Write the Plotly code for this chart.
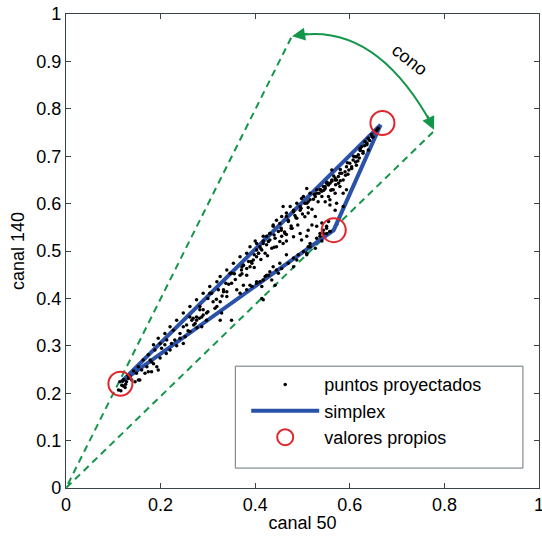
import plotly.graph_objects as go

# ---------------- data ----------------
pts_x = [0.111, 0.118, 0.125, 0.114, 0.128, 0.132, 0.122, 0.139, 0.146, 0.153,
         0.149, 0.160, 0.171, 0.174, 0.181, 0.185, 0.192, 0.195, 0.178, 0.199,
         0.202, 0.209, 0.212, 0.220, 0.223, 0.230, 0.234, 0.241, 0.248, 0.252,
         0.255, 0.262, 0.266, 0.273, 0.277, 0.283, 0.290, 0.287, 0.297, 0.181,
         0.167, 0.156, 0.449, 0.442, 0.431, 0.424, 0.417, 0.414, 0.407, 0.421,
         0.435, 0.445, 0.403, 0.393, 0.389, 0.382, 0.371, 0.368, 0.350, 0.350,
         0.333, 0.340, 0.308, 0.326, 0.311, 0.315, 0.290, 0.287, 0.276, 0.269,
         0.326, 0.350, 0.368, 0.375, 0.393, 0.403, 0.410, 0.417, 0.421, 0.428,
         0.431, 0.438, 0.452, 0.449, 0.466, 0.459, 0.375, 0.562, 0.579, 0.569,
         0.558, 0.576, 0.586, 0.548, 0.562, 0.569, 0.555, 0.541, 0.548, 0.572,
         0.558, 0.533, 0.527, 0.516, 0.505, 0.516, 0.509, 0.530, 0.498, 0.488,
         0.495, 0.481, 0.474, 0.466, 0.459, 0.456, 0.470, 0.488, 0.445, 0.438,
         0.431, 0.424, 0.417, 0.410, 0.403, 0.456, 0.466, 0.463, 0.481, 0.495,
         0.498, 0.509, 0.512, 0.520, 0.530, 0.516, 0.530, 0.537, 0.544, 0.551,
         0.541, 0.527, 0.512, 0.555, 0.551, 0.558, 0.541, 0.527, 0.512, 0.502,
         0.491, 0.481, 0.509, 0.400, 0.407, 0.660, 0.653, 0.646, 0.639, 0.632,
         0.636, 0.625, 0.622, 0.628, 0.618, 0.611, 0.607, 0.600, 0.593, 0.604,
         0.614, 0.590, 0.583, 0.576, 0.569, 0.562, 0.555, 0.548, 0.579, 0.586,
         0.565, 0.541, 0.639, 0.304, 0.283, 0.333, 0.347, 0.375, 0.382, 0.396,
         0.262, 0.248, 0.227, 0.213, 0.199, 0.188, 0.174, 0.163, 0.153, 0.414,
         0.442, 0.414, 0.445, 0.488, 0.481, 0.509, 0.516, 0.537, 0.544, 0.558,
         0.551, 0.502, 0.544, 0.572, 0.593, 0.558, 0.569, 0.586, 0.604, 0.614,
         0.628, 0.622, 0.636, 0.646, 0.653, 0.466, 0.481, 0.495, 0.509, 0.530,
         0.537, 0.551, 0.562, 0.452, 0.438, 0.431, 0.417, 0.403, 0.389, 0.382,
         0.368, 0.354, 0.340, 0.326, 0.319, 0.304, 0.290, 0.276, 0.262, 0.248,
         0.234, 0.220, 0.209, 0.195, 0.185, 0.241, 0.276, 0.297, 0.319, 0.340,
         0.361, 0.382, 0.389, 0.403, 0.424, 0.435, 0.456, 0.470, 0.417, 0.329,
         0.121, 0.116, 0.126, 0.135, 0.143, 0.119, 0.131, 0.657, 0.649, 0.642,
         0.631, 0.617, 0.598, 0.591, 0.612, 0.620, 0.596, 0.580, 0.570, 0.560,
         0.545, 0.535, 0.523, 0.512, 0.500, 0.486, 0.476, 0.462, 0.476, 0.455,
         0.392, 0.372, 0.358, 0.344, 0.330, 0.318, 0.300, 0.282, 0.270, 0.258,
         0.520, 0.505, 0.490, 0.478, 0.466, 0.452, 0.440, 0.426, 0.412, 0.398,
         0.300, 0.322, 0.338, 0.356, 0.372, 0.386, 0.398, 0.412, 0.428, 0.440,
         0.455, 0.470, 0.484, 0.497, 0.512, 0.525, 0.538, 0.552, 0.566, 0.580,
         0.595, 0.608, 0.622, 0.636, 0.648]
pts_y = [0.207, 0.217, 0.212, 0.224, 0.224, 0.231, 0.229, 0.228, 0.224, 0.228,
         0.242, 0.249, 0.256, 0.245, 0.266, 0.262, 0.256, 0.249, 0.270, 0.274,
         0.295, 0.302, 0.284, 0.291, 0.305, 0.312, 0.300, 0.316, 0.305, 0.319,
         0.344, 0.330, 0.354, 0.347, 0.338, 0.376, 0.365, 0.340, 0.354, 0.245,
         0.242, 0.228, 0.541, 0.527, 0.523, 0.513, 0.516, 0.502, 0.495, 0.495,
         0.506, 0.509, 0.488, 0.474, 0.467, 0.463, 0.460, 0.449, 0.453, 0.432,
         0.414, 0.414, 0.411, 0.393, 0.393, 0.379, 0.376, 0.361, 0.354, 0.358,
         0.354, 0.354, 0.411, 0.428, 0.425, 0.432, 0.435, 0.439, 0.446, 0.449,
         0.456, 0.467, 0.474, 0.453, 0.492, 0.516, 0.470, 0.671, 0.664, 0.654,
         0.643, 0.643, 0.650, 0.632, 0.629, 0.622, 0.615, 0.615, 0.604, 0.601,
         0.597, 0.604, 0.615, 0.608, 0.601, 0.622, 0.632, 0.629, 0.611, 0.601,
         0.586, 0.583, 0.594, 0.580, 0.594, 0.573, 0.565, 0.569, 0.565, 0.555,
         0.537, 0.531, 0.521, 0.509, 0.502, 0.531, 0.521, 0.537, 0.530, 0.537,
         0.523, 0.531, 0.544, 0.555, 0.552, 0.516, 0.527, 0.537, 0.544, 0.552,
         0.559, 0.573, 0.580, 0.562, 0.537, 0.541, 0.521, 0.506, 0.509, 0.499,
         0.492, 0.485, 0.492, 0.521, 0.495, 0.759, 0.752, 0.745, 0.738, 0.731,
         0.724, 0.720, 0.713, 0.710, 0.703, 0.699, 0.692, 0.685, 0.678, 0.674,
         0.681, 0.667, 0.664, 0.657, 0.650, 0.647, 0.639, 0.636, 0.636, 0.622,
         0.629, 0.626, 0.713, 0.411, 0.383, 0.418, 0.453, 0.470, 0.449, 0.481,
         0.361, 0.340, 0.333, 0.312, 0.305, 0.291, 0.281, 0.270, 0.256, 0.400,
         0.428, 0.425, 0.460, 0.481, 0.467, 0.495, 0.509, 0.531, 0.537, 0.541,
         0.548, 0.615, 0.636, 0.650, 0.629, 0.608, 0.586, 0.594, 0.678, 0.699,
         0.706, 0.717, 0.727, 0.745, 0.752, 0.573, 0.586, 0.594, 0.601, 0.622,
         0.629, 0.643, 0.650, 0.558, 0.552, 0.537, 0.531, 0.516, 0.509, 0.495,
         0.488, 0.474, 0.460, 0.446, 0.435, 0.425, 0.411, 0.397, 0.383, 0.369,
         0.354, 0.340, 0.326, 0.316, 0.302, 0.326, 0.361, 0.369, 0.383, 0.404,
         0.418, 0.418, 0.428, 0.435, 0.449, 0.439, 0.463, 0.474, 0.397, 0.369,
         0.215, 0.205, 0.219, 0.236, 0.247, 0.226, 0.238, 0.755, 0.741, 0.733,
         0.722, 0.690, 0.671, 0.660, 0.688, 0.696, 0.662, 0.648, 0.640, 0.628,
         0.628, 0.622, 0.609, 0.592, 0.578, 0.570, 0.553, 0.540, 0.548, 0.544,
         0.478, 0.452, 0.440, 0.430, 0.405, 0.398, 0.372, 0.358, 0.344, 0.332,
         0.588, 0.572, 0.555, 0.548, 0.535, 0.520, 0.508, 0.490, 0.482, 0.465,
         0.400, 0.418, 0.432, 0.452, 0.466, 0.478, 0.492, 0.505, 0.520, 0.534,
         0.548, 0.562, 0.575, 0.590, 0.604, 0.619, 0.630, 0.645, 0.658, 0.672,
         0.686, 0.700, 0.712, 0.728, 0.740]

simplex_x = [0.117, 0.665, 0.566, 0.117]
simplex_y = [0.224, 0.766, 0.544, 0.224]

eig_x = [0.115, 0.669, 0.566]
eig_y = [0.220, 0.770, 0.544]

cone_x = [0.476, 0.0, 0.776]
cone_y = [0.950, 0.0, 0.751]

arc_start = (0.484, 0.954)
arc_ctrl = (0.655, 0.985)
arc_end = (0.776, 0.762)

x_ticks = [0, 0.2, 0.4, 0.6, 0.8, 1]
x_labels = ["0", "0.2", "0.4", "0.6", "0.8", "1"]
y_ticks = [0, 0.1, 0.2, 0.3, 0.4, 0.5, 0.6, 0.7, 0.8, 0.9, 1]
y_labels = ["0", "0.1", "0.2", "0.3", "0.4", "0.5", "0.6", "0.7", "0.8", "0.9", "1"]

BLUE = "#2a52a8"
RED = "#e0262c"
GREEN = "#14964a"
AXC = "#3a4448"
FONT = "Liberation Sans, Arial, sans-serif"
FS = 18

fig = go.Figure()

fig.add_trace(go.Scatter(x=cone_x, y=cone_y, mode="lines",
                         line=dict(color=GREEN, width=2, dash="7px,5px"),
                         showlegend=False, hoverinfo="skip"))
fig.add_trace(go.Scatter(x=simplex_x, y=simplex_y, mode="lines", name="simplex",
                         line=dict(color=BLUE, width=4), legendrank=2))
fig.add_trace(go.Scatter(x=pts_x, y=pts_y, mode="markers", name="puntos proyectados",
                         marker=dict(color="black", size=3.5), legendrank=1))
fig.add_trace(go.Scatter(x=eig_x, y=eig_y, mode="markers", name="valores propios",
                         marker=dict(symbol="circle-open", color=RED, size=24,
                                     line=dict(width=2, color=RED)), legendrank=3))

# curved arrow "cono"
fig.add_shape(type="path",
              path=f"M {arc_start[0]},{arc_start[1]} Q {arc_ctrl[0]},{arc_ctrl[1]} {arc_end[0]},{arc_end[1]}",
              line=dict(color=GREEN, width=2), xref="x", yref="y")
fig.add_annotation(x=arc_start[0] - 0.006, y=arc_start[1] - 0.001,
                   ax=arc_start[0] + 0.03, ay=arc_start[1] + 0.005,
                   xref="x", yref="y", axref="x", ayref="y", text="", showarrow=True,
                   arrowhead=2, arrowsize=1.3, arrowwidth=2, arrowcolor=GREEN)
fig.add_annotation(x=arc_end[0] + 0.002, y=arc_end[1] - 0.006,
                   ax=arc_end[0] - 0.014, ay=arc_end[1] + 0.027,
                   xref="x", yref="y", axref="x", ayref="y", text="", showarrow=True,
                   arrowhead=2, arrowsize=1.3, arrowwidth=2, arrowcolor=GREEN)
fig.add_annotation(x=0.727, y=0.903, xref="x", yref="y", text="cono", showarrow=False,
                   textangle=38, font=dict(size=FS, color="black", family=FONT))

# legend frame
fig.add_shape(type="rect", xref="paper", yref="paper",
              x0=0.358, x1=0.966, y0=0.042, y1=0.257,
              line=dict(color="#6a7478", width=1), fillcolor="rgba(0,0,0,0)", layer="above")

axis_common = dict(range=[0, 1], showgrid=False, zeroline=False, showline=True,
                   linecolor=AXC, linewidth=1.2, mirror="allticks",
                   ticks="inside", ticklen=5, tickcolor=AXC, automargin=False,
                   ticklabeloverflow="allow",
                   tickfont=dict(size=FS, family=FONT, color="black"))

fig.update_xaxes(**axis_common, tickvals=x_ticks, ticktext=x_labels,
                 title=dict(text="canal 50", font=dict(size=FS, family=FONT, color="black"),
                            standoff=2))
fig.update_yaxes(**axis_common, tickvals=y_ticks, ticktext=y_labels,
                 title=dict(text="canal 140", font=dict(size=FS, family=FONT, color="black"),
                            standoff=6))

fig.update_layout(
    width=542, height=538,
    margin=dict(l=66, r=3, t=14, b=50, autoexpand=False),
    plot_bgcolor="white", paper_bgcolor="white",
    font=dict(family=FONT, color="black"),
    legend=dict(x=0.381, y=0.257, xanchor="left", yanchor="top",
                bgcolor="rgba(0,0,0,0)", borderwidth=0,
                font=dict(size=FS, family=FONT, color="black"),
                itemwidth=68, tracegroupgap=0),
)

# remove the default page margin so the 542x538 figure fills the window exactly
fig.write_html("out.html", config={"displayModeBar": False},
               post_script="document.body.style.margin='0';document.body.style.overflow='hidden';")
